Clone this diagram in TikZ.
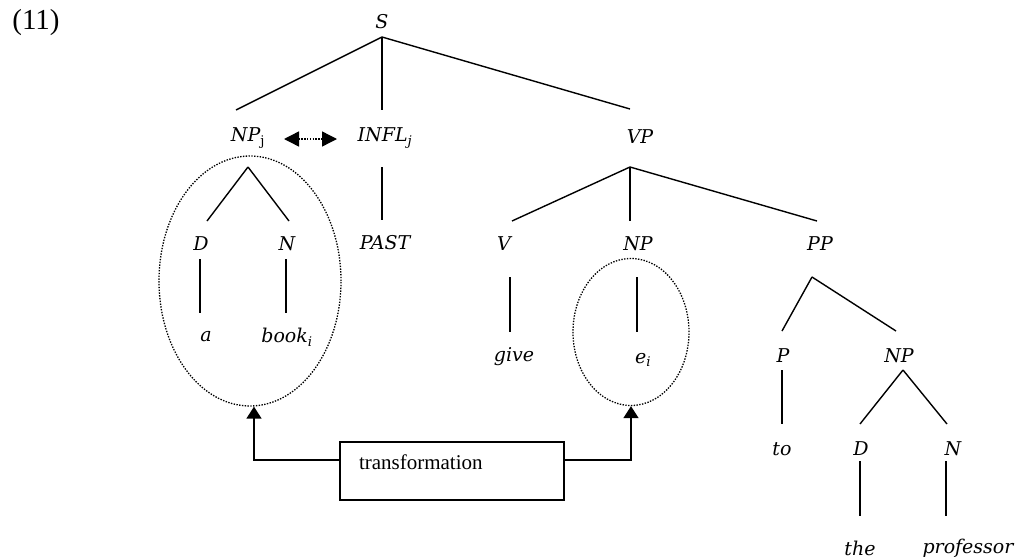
\documentclass[tikz,border=0pt]{standalone}
\usepackage{fontspec}
\setmainfont{Liberation Serif}
\newfontfamily\lblfont{DejaVu Serif}
\usetikzlibrary{arrows.meta,shapes.geometric,calc}

% branch between two labels, each end given as an offset from the label centre
\newcommand{\treeline}[6]{%
  \draw[branch] ([shift={(#2,#3)}]#1.center) -- ([shift={(#5,#6)}]#4.center);}
% lowered index after a category label
\newcommand{\idx}[1]{\textsubscript{#1}}

\begin{document}
\begin{tikzpicture}[x=1pt,y=-1pt,
  lbl/.style={inner sep=0pt, font=\lblfont\itshape\fontsize{19}{23}\selectfont},
  branch/.style={line width=1.4pt},
  ring/.style={ellipse, draw, line width=1.3pt, dash pattern=on 1.4pt off 1.4pt, inner sep=0pt},
  moveto/.style={line width=1.6pt, -{Triangle[length=12pt,width=15pt]}},
  linkarrow/.style={line width=1.4pt, dash pattern=on 1.4pt off 1.4pt,
    {Triangle[length=15pt,width=15pt]}-{Triangle[length=15pt,width=15pt]}},
  trbox/.style={draw, line width=1.2pt, minimum width=224pt, minimum height=58pt,
    inner xsep=19pt, text width=186pt, align=left, text height=15pt, text depth=19pt,
    font=\fontsize{21}{25}\selectfont}]
\useasboundingbox (0,0) rectangle (1021,560);

% example number
\node[inner sep=0pt, font=\fontsize{29}{33}\selectfont] (num) at (36,23) {(11)};

% labels of the tree
\node[lbl] (S)    at (382,22)  {S};
\node[lbl] (NPj)  at (248,138) {NP\idx{\upshape j}};
\node[lbl] (INFL) at (385,138) {INFL\idx{j}};
\node[lbl] (VP)   at (640,137) {VP};
\node[lbl] (D1)   at (201,244) {D};
\node[lbl] (N1)   at (287,244) {N};
\node[lbl] (PAST) at (385,243) {PAST};
\node[lbl] (a)    at (206,337) {a};
\node[lbl] (book) at (287,337) {book\idx{i}};
\node[lbl] (V)    at (504,244) {V};
\node[lbl] (NP1)  at (638,244) {NP};
\node[lbl] (PP)   at (820,244) {PP};
\node[lbl] (give) at (514,357) {give};
\node[lbl] (e)    at (643,360) {e\idx{i}};
\node[lbl] (P)    at (783,356) {P};
\node[lbl] (NP2)  at (899,356) {NP};
\node[lbl] (to)   at (782,449) {to};
\node[lbl] (D2)   at (861,449) {D};
\node[lbl] (N2)   at (953,449) {N};
\node[lbl] (the)  at (860,548) {the};
\node[lbl] (prof) at (968,548) {professor};

% branches
\treeline{S}{0}{15}{NPj}{-12}{-28}
\treeline{S}{0}{15}{INFL}{-3}{-28}
\treeline{S}{0}{15}{VP}{-10}{-28}
\treeline{NPj}{0}{29}{D1}{6}{-23}
\treeline{NPj}{0}{29}{N1}{2}{-23}
\treeline{INFL}{-3}{29}{PAST}{-3}{-23}
\treeline{D1}{-1}{15}{a}{-6}{-24}
\treeline{N1}{-1}{15}{book}{-1}{-24}
\treeline{VP}{-10}{30}{V}{8}{-23}
\treeline{VP}{-10}{30}{NP1}{-8}{-23}
\treeline{VP}{-10}{30}{PP}{-3}{-23}
\treeline{V}{6}{33}{give}{-4}{-25}
\treeline{NP1}{-1}{33}{e}{-6}{-28}
\treeline{PP}{-8}{33}{P}{-1}{-25}
\treeline{PP}{-8}{33}{NP2}{-3}{-25}
\treeline{P}{-1}{14}{to}{0}{-25}
\treeline{NP2}{4}{14}{D2}{-1}{-25}
\treeline{NP2}{4}{14}{N2}{-6}{-25}
\treeline{D2}{-1}{12}{the}{0}{-32}
\treeline{N2}{-7}{12}{prof}{-22}{-32}

% coindexing link between subject and INFL
\draw[linkarrow] ([shift={(36,1)}]NPj.center) -- ([shift={(-48,1)}]INFL.center);

% dotted rings round the moved phrase and its trace
\node[ring, minimum width=182pt, minimum height=250pt] (ring1) at (250,281) {};
\node[ring, minimum width=116pt, minimum height=147pt] (ring2) at (631,332) {};

% transformation box and its arrows
\node[trbox] (tr) at (452,471) {transformation};
\draw[moveto] ([yshift=11pt]tr.west) -| ([xshift=4pt]ring1.south);
\draw[moveto] ([yshift=11pt]tr.east) -| (ring2.south);
\end{tikzpicture}
\end{document}
